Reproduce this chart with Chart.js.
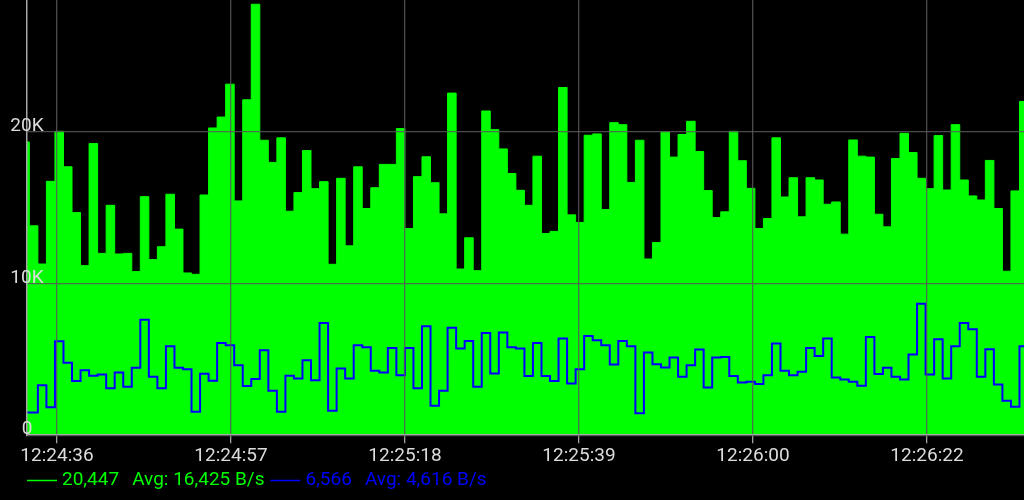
<!DOCTYPE html>
<html>
<head>
<meta charset="utf-8">
<script src="https://cdn.jsdelivr.net/npm/chart.js@4.4.0/dist/chart.umd.min.js"></script>
<style>
  html, body { margin: 0; padding: 0; background: #000; }
  canvas { display: block; background: #000; }
</style>
</head>
<body>
<canvas id="trafficChart" width="1024" height="500"></canvas>
<script>
// samples in B/s, one per ~1.04 s
const rxValues = [
  19340, 13810, 11290, 16740, 20040, 17700, 14680, 11180, 19230, 11990,
  15160, 11950, 11990, 10790, 15730, 11580, 12430, 15890, 13590, 10700,
  10610, 15840, 20260, 20980, 23150, 15450, 22120, 28420, 19450, 17990,
  19610, 14770, 16000, 18770, 16260, 16720, 11270, 16940, 12490, 17700,
  14950, 16320, 17860, 17860, 20220, 13630, 17050, 18360, 16650, 14600,
  22560, 10960, 13020, 10850, 21380, 20150, 18880, 17260, 16150, 15160,
  18400, 13300, 13440, 22930, 14530, 14030, 19780, 19870, 14880, 20610,
  20480, 16670, 19450, 11620, 12710, 20000, 18340, 19830, 20700, 18710,
  16130, 14350, 14730, 20040, 18100, 16280, 13630, 14290, 19610, 15710,
  16980, 14400, 16980, 16830, 15230, 15380, 13260, 19470, 18400, 18340,
  14570, 13740, 18250, 19910, 18640, 16940, 16260, 19760, 16170, 20480,
  16830, 15780, 15510, 18120, 14950, 10810, 16110, 22010
];
const txValues = [
  1490, 1490, 3300, 1840, 6190, 4770, 3570, 4290, 3920, 4000,
  3090, 4140, 3190, 4440, 7610, 3850, 3090, 5860, 4440, 4350,
  1550, 4050, 3590, 6080, 5930, 4620, 3240, 3700, 5600, 2930,
  1550, 3920, 3740, 4950, 3630, 7400, 1620, 4400, 3740, 5930,
  5800, 4250, 4140, 5750, 3960, 5750, 3090, 7180, 1950, 2930,
  7090, 5710, 6210, 3190, 6740, 4070, 6780, 5800, 5710, 3900,
  6080, 3900, 3570, 6370, 3410, 4350, 6540, 6260, 5930, 4660,
  6210, 5860, 1440, 5450, 4680, 4460, 5120, 3850, 4620, 5650,
  3150, 5120, 5160, 3900, 3480, 3520, 3370, 3960, 6040, 4250,
  3960, 4180, 5750, 5230, 6370, 3810, 3680, 3520, 3260, 6480,
  4030, 4440, 3850, 3680, 5320, 8670, 4000, 6320, 3740, 5860,
  7400, 6980, 3850, 5670, 3350, 2280, 1880, 5860
];

// seconds after 12:24:00
const firstSample = 31.59;
const sampleStep = 1.04;
const tickSeconds = [36, 57.2, 78.4, 99.6, 120.8, 142];
const tickLabels = ['12:24:36', '12:24:57', '12:25:18', '12:25:39', '12:26:00', '12:26:22'];
const yTicks = [0, 10000, 20000];
const yLabels = ['0', '10K', '20K'];

const legendValues = ['20,447', '6,566'];
const legendAvgs = ['Avg: 16,425 B/s', 'Avg: 4,616 B/s'];
const seriesColors = ['#00ff00', '#0000ff'];

function toPoints(values) {
  const pts = values.map((v, i) => ({ x: firstSample + i * sampleStep, y: v }));
  // hold the last value to the right edge
  pts.push({ x: firstSample + values.length * sampleStep, y: values[values.length - 1] });
  return pts;
}

const FONT = '19px Roboto';

const overlay = {
  id: 'overlay',
  afterDraw(chart) {
    const ctx = chart.ctx;
    const y = chart.scales.y;
    const left = chart.chartArea.left;
    ctx.save();
    ctx.font = FONT;
    ctx.fillStyle = '#dcdcdc';
    ctx.textAlign = 'center';
    ctx.textBaseline = 'alphabetic';
    yTicks.forEach((v, i) => {
      ctx.fillText(yLabels[i], left, y.getPixelForValue(v) - 1);
    });

    // legend
    ctx.textAlign = 'left';
    let x = left;
    const lineY = 480.5;
    const baseY = 485;
    for (let i = 0; i < legendValues.length; i++) {
      ctx.strokeStyle = seriesColors[i];
      ctx.fillStyle = seriesColors[i];
      ctx.lineWidth = 1.5;
      ctx.beginPath();
      ctx.moveTo(x, lineY);
      ctx.lineTo(x + 30, lineY);
      ctx.stroke();
      x += 35;
      ctx.fillText(legendValues[i], x, baseY);
      x += ctx.measureText(legendValues[i]).width + 13;
      ctx.fillText(legendAvgs[i], x, baseY);
      x += ctx.measureText(legendAvgs[i]).width + 6;
    }
    ctx.restore();
  }
};

const gridColor = 'rgba(88,88,88,0.85)';

new Chart(document.getElementById('trafficChart'), {
  type: 'line',
  data: {
    datasets: [
      {
        label: 'rx',
        data: toPoints(rxValues),
        stepped: true,
        borderColor: '#00ff00',
        backgroundColor: '#00ff00',
        borderWidth: 1,
        fill: 'origin',
        pointRadius: 0,
        order: 1
      },
      {
        label: 'tx',
        data: toPoints(txValues),
        stepped: true,
        borderColor: '#0000ff',
        borderWidth: 2,
        fill: false,
        pointRadius: 0,
        order: 0
      }
    ]
  },
  options: {
    responsive: false,
    animation: false,
    events: [],
    layout: { padding: { left: 27, right: 0, top: 0, bottom: 30 } },
    plugins: {
      legend: { display: false },
      tooltip: { enabled: false }
    },
    scales: {
      x: {
        type: 'linear',
        min: 32.345,
        max: 153.82,
        afterBuildTicks: s => { s.ticks = tickSeconds.map(v => ({ value: v })); },
        ticks: {
          autoSkip: false,
          maxRotation: 0,
          padding: 2,
          color: '#dcdcdc',
          font: { family: 'Roboto', size: 19 },
          callback: (v, i) => tickLabels[i]
        },
        grid: { z: 1, color: gridColor, lineWidth: 1.3, drawTicks: true, tickLength: 8, tickColor: '#a0a0a0' },
        border: { z: 1, display: true, color: '#a8a8a8', width: 1.5 }
      },
      y: {
        min: 0,
        max: 28700,
        afterBuildTicks: s => { s.ticks = yTicks.map(v => ({ value: v })); },
        ticks: { display: false },
        grid: { z: 1, color: gridColor, lineWidth: 1.3, drawTicks: false },
        border: { z: 1, display: true, color: '#a8a8a8', width: 1.5 }
      }
    }
  },
  plugins: [overlay]
});
</script>
</body>
</html>
